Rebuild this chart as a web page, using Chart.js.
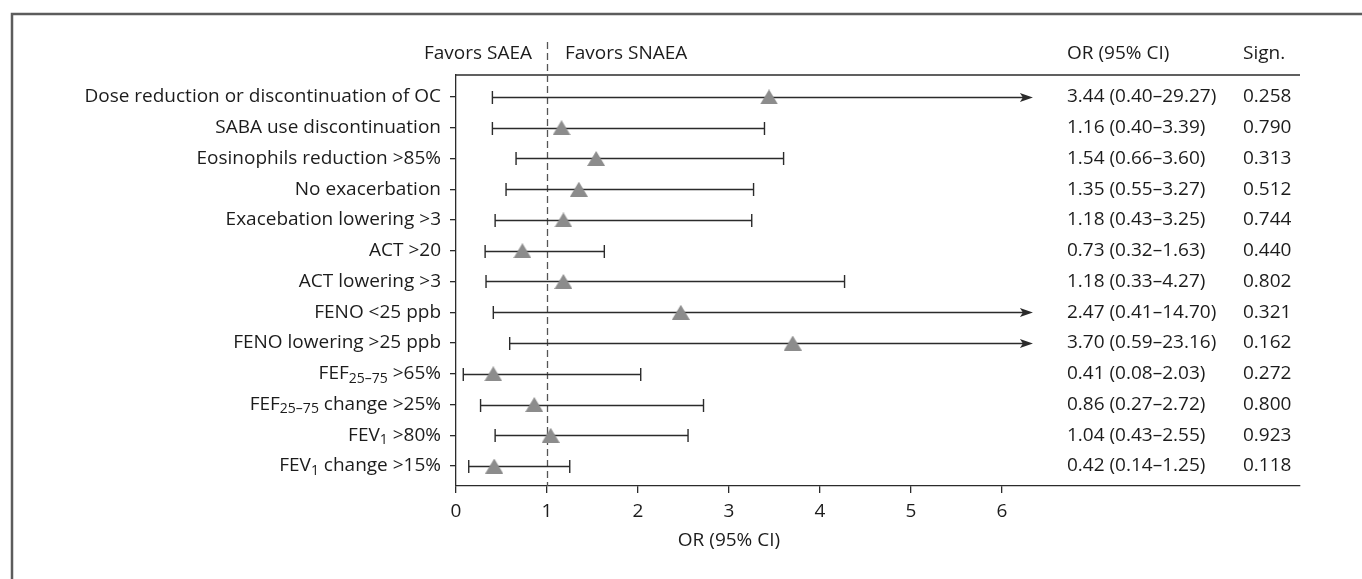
<!DOCTYPE html>
<html>
<head>
<meta charset="utf-8">
<title>Forest plot – SAEA vs SNAEA</title>
<script src="https://cdn.jsdelivr.net/npm/chart.js@4.4.0/dist/chart.umd.min.js"></script>
<style>
  html, body { margin: 0; padding: 0; background: #fff; }
  #wrap { width: 1362px; height: 579px; }
</style>
</head>
<body>
<div id="wrap"><canvas id="forest" width="1362" height="579"></canvas></div>
<script>
// --- data ---
// "_{...}" marks a subscript
const rowLabels = [
    'Dose reduction or discontinuation of OC',
    'SABA use discontinuation',
    'Eosinophils reduction >85%',
    'No exacerbation',
    'Exacebation lowering >3',
    'ACT >20',
    'ACT lowering >3',
    'FENO <25 ppb',
    'FENO lowering >25 ppb',
    'FEF_{25–75} >65%',
    'FEF_{25–75} change >25%',
    'FEV_{1} >80%',
    'FEV_{1} change >15%'
];
const oddsRatios = [3.44, 1.16, 1.54, 1.35, 1.18, 0.73, 1.18, 2.47, 3.70, 0.41, 0.86, 1.04, 0.42];
const ciLower = [0.40, 0.40, 0.66, 0.55, 0.43, 0.32, 0.33, 0.41, 0.59, 0.08, 0.27, 0.43, 0.14];
const ciUpper = [29.27, 3.39, 3.60, 3.27, 3.25, 1.63, 4.27, 14.70, 23.16, 2.03, 2.72, 2.55, 1.25];
const pValues = [0.258, 0.790, 0.313, 0.512, 0.744, 0.440, 0.802, 0.321, 0.162, 0.272, 0.800, 0.923, 0.118];
const xTicks = [0, 1, 2, 3, 4, 5, 6];

const arrowLimit = 6.34;   // CIs beyond this end in an arrow
const FONT = '"Open Sans", "Noto Sans", sans-serif';
const FS = 19;
const TEXT = '#1c1c1c';
const LINE = '#2b2b2b';

// triangle marker centred on its bounding box (like the original)
function makeTriangle(w, h, color) {
    const c = document.createElement('canvas');
    c.width = w;
    c.height = h;
    const g = c.getContext('2d');
    g.fillStyle = color;
    g.beginPath();
    g.moveTo(0, h);
    g.lineTo(w / 2, 0);
    g.lineTo(w, h);
    g.closePath();
    g.fill();
    return c;
}

// draw text with _{sub} pieces, aligned right or left at x
function drawRich(ctx, text, x, y, align) {
    const parts = text.split(/_\{([^}]*)\}/);
    const segs = parts.map((p, i) => ({ t: p, sub: i % 2 === 1 })).filter(s => s.t);
    const fontOf = s => (s.sub ? '14px ' : FS + 'px ') + FONT;
    let total = 0;
    segs.forEach(s => { ctx.font = fontOf(s); s.w = ctx.measureText(s.t).width; total += s.w; });
    let cx = align === 'right' ? x - total : x;
    ctx.textAlign = 'left';
    segs.forEach(s => {
        ctx.font = fontOf(s);
        ctx.fillText(s.t, cx, s.sub ? y + 5 : y);
        cx += s.w;
    });
}

const forestPlugin = {
    id: 'forest',
    beforeDatasetsDraw(chart) {
        const { ctx, chartArea: a, scales: { x, y } } = chart;
        ctx.save();

        // outer frame (top + left only)
        ctx.strokeStyle = '#5c5c5c';
        ctx.lineWidth = 2.5;
        ctx.beginPath();
        ctx.moveTo(12, 579);
        ctx.lineTo(12, 14);
        ctx.lineTo(1362, 14);
        ctx.stroke();

        // top rule of the plot/table
        ctx.strokeStyle = LINE;
        ctx.lineWidth = 1.3;
        ctx.beginPath();
        ctx.moveTo(a.left, a.top);
        ctx.lineTo(a.right, a.top);
        ctx.stroke();

        // no-effect line at OR = 1
        const x1 = Math.round(x.getPixelForValue(1)) + 0.5;
        ctx.strokeStyle = '#555';
        ctx.setLineDash([7, 4]);
        ctx.beginPath();
        ctx.moveTo(x1, 42);
        ctx.lineTo(x1, a.bottom);
        ctx.stroke();
        ctx.setLineDash([]);

        // confidence intervals
        ctx.strokeStyle = LINE;
        ctx.fillStyle = LINE;
        ctx.lineWidth = 1.4;
        oddsRatios.forEach((or, i) => {
            const py = Math.round(y.getPixelForValue(i + 1)) + 0.5;
            const clipped = ciUpper[i] > arrowLimit;
            const xa = x.getPixelForValue(ciLower[i]);
            const xb = x.getPixelForValue(clipped ? arrowLimit : ciUpper[i]);
            ctx.beginPath();
            ctx.moveTo(xa, py);
            ctx.lineTo(clipped ? xb - 8 : xb, py);
            ctx.moveTo(xa, py - 6.5);
            ctx.lineTo(xa, py + 6.5);
            if (!clipped) {
                ctx.moveTo(xb, py - 6.5);
                ctx.lineTo(xb, py + 6.5);
            }
            ctx.stroke();
            if (clipped) {
                ctx.beginPath();
                ctx.moveTo(xb, py);
                ctx.lineTo(xb - 13, py - 4.5);
                ctx.lineTo(xb - 10, py);
                ctx.lineTo(xb - 13, py + 4.5);
                ctx.closePath();
                ctx.fill();
            }
        });
        ctx.restore();
    },
    afterDraw(chart) {
        const { ctx, chartArea: a, scales: { x, y } } = chart;
        ctx.save();
        ctx.fillStyle = TEXT;
        ctx.textBaseline = 'middle';
        ctx.font = FS + 'px ' + FONT;

        // headers
        const xOne = x.getPixelForValue(1);
        ctx.textAlign = 'right';
        ctx.fillText('Favors SAEA', xOne - 15, 54);
        ctx.textAlign = 'left';
        ctx.fillText('Favors SNAEA', xOne + 18, 54);
        ctx.fillText('OR (95% CI)', 1067, 54);
        ctx.fillText('Sign.', 1243, 54);

        // row labels, OR text, p values
        rowLabels.forEach((lab, i) => {
            const py = y.getPixelForValue(i + 1);
            drawRich(ctx, lab, a.left - 15, py, 'right');
            ctx.font = FS + 'px ' + FONT;
            ctx.textAlign = 'left';
            const orText = oddsRatios[i].toFixed(2) + ' (' + ciLower[i].toFixed(2) + '–' + ciUpper[i].toFixed(2) + ')';
            ctx.fillText(orText, 1067, py);
            ctx.fillText(pValues[i].toFixed(3), 1243, py);
        });

        // axis title, centred under the ticked range
        ctx.textAlign = 'center';
        ctx.fillText('OR (95% CI)', x.getPixelForValue((xTicks[0] + xTicks[xTicks.length - 1]) / 2), 541);
        ctx.restore();
    }
};

new Chart(document.getElementById('forest'), {
    type: 'scatter',
    data: {
        datasets: [{
            data: oddsRatios.map((or, i) => ({ x: or, y: i + 1 })),
            pointStyle: makeTriangle(18, 15, '#8c8c8c'),
            pointRadius: 9,
            pointHoverRadius: 9
        }]
    },
    options: {
        responsive: false,
        animation: false,
        devicePixelRatio: 1,
        layout: { padding: { left: 450, right: 62, top: 75, bottom: 0 } },
        plugins: { legend: { display: false }, tooltip: { enabled: false } },
        scales: {
            x: {
                type: 'linear',
                min: 0,
                max: 9.275,
                afterBuildTicks: s => { s.ticks = xTicks.map(v => ({ value: v })); },
                afterFit: s => { s.height = 93; },
                grid: { drawOnChartArea: false, drawTicks: true, tickLength: 7, color: LINE, lineWidth: 1.3 },
                border: { display: true, color: LINE, width: 1.3 },
                ticks: { color: TEXT, font: { family: FONT, size: FS }, padding: 7, maxRotation: 0 }
            },
            y: {
                type: 'linear',
                reverse: true,
                min: 0.285,
                max: 13.65,
                afterBuildTicks: s => { s.ticks = rowLabels.map((l, i) => ({ value: i + 1 })); },
                afterFit: s => { s.width = 6; },
                grid: { drawOnChartArea: false, drawTicks: true, tickLength: 6, color: LINE, lineWidth: 1.3 },
                border: { display: true, color: LINE, width: 1.3 },
                ticks: { display: false }
            }
        }
    },
    plugins: [forestPlugin]
});
</script>
</body>
</html>
